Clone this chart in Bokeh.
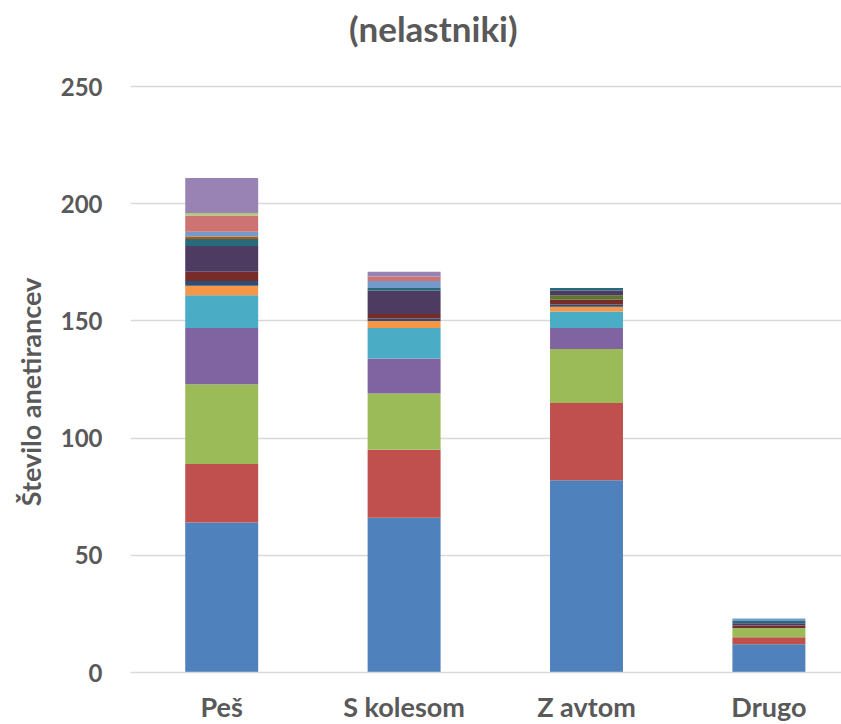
from bokeh.plotting import figure
from bokeh.models import FixedTicker, Label
from bokeh.embed import file_html
from bokeh.resources import INLINE

categories = ["Peš", "S kolesom", "Z avtom", "Drugo"]
x_pos = [0.5, 1.5, 2.5, 3.5]

s_blue = [64, 66, 82, 12]
s_red = [25, 29, 33, 3]
s_green = [34, 24, 23, 4]
s_purple = [24, 15, 9, 0]
s_aqua = [14, 13, 7, 0]
s_orange = [4, 3, 2, 0]
s_dblue = [2, 1, 1, 0]
s_dred = [4, 2, 2, 1]
s_dgreen = [0, 0, 2, 0]
s_dpurple = [11, 10, 2, 1]
s_daqua = [3, 1, 1, 1]
s_dorange = [1, 0, 0, 0]
s_lblue = [2, 3, 0, 1]
s_lred = [7, 2, 0, 0]
s_lgreen = [1, 0, 0, 0]
s_lpurple = [15, 2, 0, 0]

series = [s_blue, s_red, s_green, s_purple, s_aqua, s_orange, s_dblue, s_dred,
          s_dgreen, s_dpurple, s_daqua, s_dorange, s_lblue, s_lred, s_lgreen, s_lpurple]
colors = ["#4F81BD", "#C0504D", "#9BBB59", "#8064A2", "#4BACC6", "#F79646",
          "#2C4D75", "#772C2A", "#5F7530", "#4D3B62", "#276A7C", "#B65708",
          "#729ACA", "#CD7371", "#AFC97A", "#9983B5"]

y_ticks = [0, 50, 100, 150, 200, 250]
title_text = "(nelastniki)"
y_label = "Število anetirancev"

FONT = "Lato"
GRAY = "#595959"

# frame reaches the top of the canvas so the title can sit inside it above the 250 line
p = figure(frame_width=711, frame_height=672, x_range=(0, 3.898), y_range=(0, 286.7),
           output_backend="svg", toolbar_location=None,
           min_border_left=130, min_border_right=0, min_border_top=0, min_border_bottom=52)
p.title = None
title = Label(x=1.66, y=275.0, text=title_text,
              text_align="center", text_baseline="middle", text_font=FONT,
              text_font_size="35px", text_font_style="bold", text_color=GRAY)
p.add_layout(title)

data = {"x": x_pos}
names = []
for i, s in enumerate(series):
    n = f"s{i}"
    data[n] = s
    names.append(n)

p.vbar_stack(names, x="x", width=0.4, color=colors, source=data, line_color=None)

p.outline_line_color = None
p.xgrid.visible = False
p.ygrid.grid_line_color = "#D9D9D9"
p.ygrid.grid_line_width = 1.5
p.ygrid.ticker = FixedTicker(ticks=y_ticks)

p.yaxis.ticker = FixedTicker(ticks=y_ticks)
p.yaxis.axis_line_color = None
p.yaxis.major_tick_line_color = None
p.yaxis.minor_tick_line_color = None
p.yaxis.major_label_standoff = 22
p.yaxis.major_label_text_font = FONT
p.yaxis.major_label_text_font_size = "24px"
p.yaxis.major_label_text_font_style = "bold"
p.yaxis.major_label_text_color = GRAY
# trailing non-breaking spaces shift the centred label down to the 0-250 band
p.yaxis.axis_label = y_label + "\u00A0" * 17
p.yaxis.axis_label_text_font = FONT
p.yaxis.axis_label_text_font_size = "27px"
p.yaxis.axis_label_text_font_style = "bold"
p.yaxis.axis_label_text_color = GRAY
p.yaxis.axis_label_standoff = 11

p.xaxis.ticker = FixedTicker(ticks=x_pos)
p.xaxis.major_label_overrides = {x: c for x, c in zip(x_pos, categories)}
p.xaxis.axis_line_color = "#D9D9D9"
p.xaxis.axis_line_width = 1.5
p.xaxis.major_tick_line_color = None
p.xaxis.minor_tick_line_color = None
p.xaxis.major_label_standoff = 11
p.xaxis.major_label_text_font = FONT
p.xaxis.major_label_text_font_size = "27px"
p.xaxis.major_label_text_font_style = "bold"
p.xaxis.major_label_text_color = GRAY

open("out.html", "w").write(file_html(p, INLINE))
